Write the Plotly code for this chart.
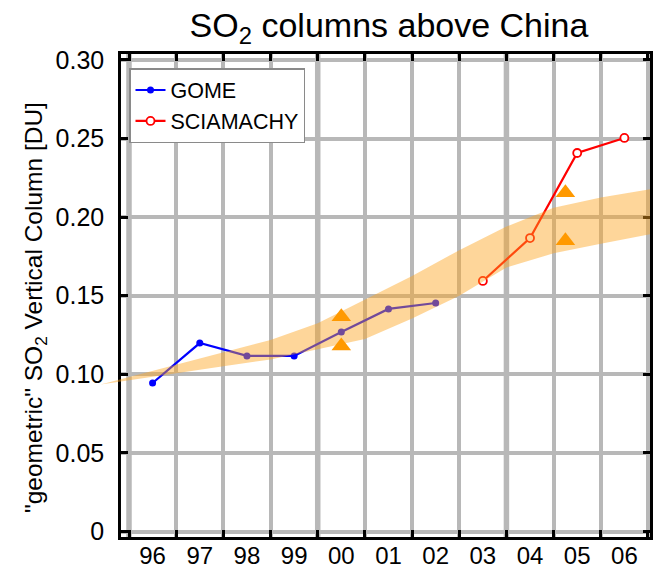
import plotly.graph_objects as go

# ---------------- data ----------------
year_labels = ['96', '97', '98', '99', '00', '01', '02', '03', '04', '05', '06']
year_starts = [1996 + i for i in range(12)]          # grid boundaries
year_mids = [1996.5 + i for i in range(11)]          # label / data positions

gome_x = [1996.5, 1997.5, 1998.5, 1999.5, 2000.5, 2001.5, 2002.5]
gome_y = [0.0945, 0.1199, 0.1117, 0.1117, 0.1269, 0.1416, 0.1454]

scia_x = [2003.5, 2004.5, 2005.5, 2006.5]
scia_y = [0.1594, 0.1867, 0.2408, 0.2504]

tri_x = [2000.5, 2000.5, 2005.25, 2005.25]
tri_y = [0.1367, 0.1180, 0.2156, 0.1850]

band_x = [1995.40, 1996, 1997, 1998, 1999, 2000, 2001, 2002, 2003, 2004, 2005, 2006, 2007.1]
band_upper = [0.0935, 0.0982, 0.1061, 0.1140, 0.1219, 0.1325, 0.1475, 0.1625, 0.1790, 0.1940, 0.2060, 0.2125, 0.2180]
band_lower = [0.0935, 0.0963, 0.1007, 0.1051, 0.1095, 0.1160, 0.1225, 0.1355, 0.1500, 0.1680, 0.1770, 0.1830, 0.1895]

y_ticks = [0, 0.05, 0.10, 0.15, 0.20, 0.25, 0.30]
y_ticktext = ['0', '0.05', '0.10', '0.15', '0.20', '0.25', '0.30']
thick_years = [1996, 2000, 2004]

# ---------------- layout geometry ----------------
W, H = 656, 573
ML, MR, MT, MB = 96, 6, 54, 36
px_per_year = 47.18
x_left_px = 121   # main axis line
x_zero_px = 129   # position of 1996.0
plot_w = W - ML - MR
plot_h = H - MT - MB
x_main_lo = 1996 + (x_left_px - x_zero_px) / px_per_year
x2_lo = 1996 + (ML - x_zero_px) / px_per_year
x_hi = 1996 + (W - MR - x_zero_px) / px_per_year
dom_start = (x_left_px - ML) / plot_w

y_lo, y_hi = -0.0035, 0.3038

FONT = 'Liberation Sans, Arial, Helvetica, sans-serif'
GRID = '#b8b8b8'

fig = go.Figure()

fig.add_trace(go.Scatter(
    x=gome_x, y=gome_y, mode='lines+markers', name='GOME',
    line=dict(color='#0000ff', width=2.2),
    marker=dict(color='#0000ff', size=7, symbol='circle'),
    legendgroup='g', xaxis='x', yaxis='y'))

fig.add_trace(go.Scatter(
    x=scia_x, y=scia_y, mode='lines+markers', name='SCIAMACHY',
    line=dict(color='#ff0000', width=2.2),
    marker=dict(color='white', size=8, symbol='circle',
                line=dict(color='#ff0000', width=1.8)),
    legendgroup='s', xaxis='x', yaxis='y'))

fig.add_trace(go.Scatter(
    x=band_x + band_x[::-1], y=band_upper + band_lower[::-1],
    mode='lines', fill='toself', fillcolor='rgba(252,165,30,0.45)',
    line=dict(width=0), showlegend=False, hoverinfo='skip',
    xaxis='x2', yaxis='y2'))

fig.add_trace(go.Scatter(
    x=tri_x, y=tri_y, mode='markers', showlegend=False,
    marker=dict(symbol='triangle-up', size=17, color='#ff9900'),
    xaxis='x2', yaxis='y2'))

for yr in thick_years:
    fig.add_shape(type='line', xref='x', yref='paper', x0=yr, x1=yr, y0=0, y1=1,
                  line=dict(color=GRID, width=5.5), layer='below')

fig.update_layout(
    width=W, height=H,
    margin=dict(l=ML, r=MR, t=MT, b=MB, autoexpand=False),
    paper_bgcolor='white', plot_bgcolor='rgba(0,0,0,0)',
    font=dict(family=FONT, color='black', size=24),
    title=dict(text='SO<sub>2</sub> columns above China', x=0.593, xanchor='center',
               y=0.957, yanchor='middle', font=dict(size=34, family=FONT, color='black')),
    xaxis=dict(domain=[dom_start, 1], range=[x_main_lo, x_hi], anchor='y',
               automargin=False,
               tickmode='array', tickvals=year_mids, ticktext=year_labels,
               ticks='', showgrid=False, zeroline=False,
               showline=True, linecolor='black', linewidth=2.5, mirror='allticks',
               tickfont=dict(size=24), ticklabelstandoff=-5,
               minor=dict(tickvals=year_starts, ticks='inside', ticklen=7,
                          tickwidth=2.5, tickcolor='black', showgrid=True,
                          gridcolor=GRID, gridwidth=3.5)),
    yaxis=dict(domain=[0, 1], range=[y_lo, y_hi], anchor='x',
               automargin=False,
               tickmode='array', tickvals=y_ticks, ticktext=y_ticktext,
               ticks='inside', ticklen=7, tickwidth=2.5, tickcolor='black',
               showgrid=True, gridcolor=GRID, gridwidth=3.5, zeroline=False,
               showline=True, linecolor='black', linewidth=2.5, mirror='allticks',
               tickfont=dict(size=25), ticklabelstandoff=9),
    xaxis2=dict(domain=[0, 1], range=[x2_lo, x_hi], anchor='y2', visible=False,
                showgrid=False, zeroline=False, automargin=False),
    yaxis2=dict(domain=[0, 1], range=[y_lo, y_hi], anchor='x2', visible=False,
                showgrid=False, zeroline=False, automargin=False),
    legend=dict(x=(129 - ML) / plot_w, y=1 - (68 - MT) / plot_h,
                xanchor='left', yanchor='top', bgcolor='white',
                bordercolor='#8a8a8a', borderwidth=1.5,
                font=dict(size=21.5, family=FONT, color='black'),
                tracegroupgap=0),
    annotations=[dict(text='"geometric" SO<sub>2</sub> Vertical Column [DU]',
                      xref='paper', yref='paper',
                      x=(35 - ML) / plot_w, y=(H - MB - 308) / plot_h,
                      xanchor='center', yanchor='middle', textangle=-90,
                      showarrow=False, font=dict(size=24.5, family=FONT, color='black'))],
    showlegend=True,
)

fig.write_html('out.html')
